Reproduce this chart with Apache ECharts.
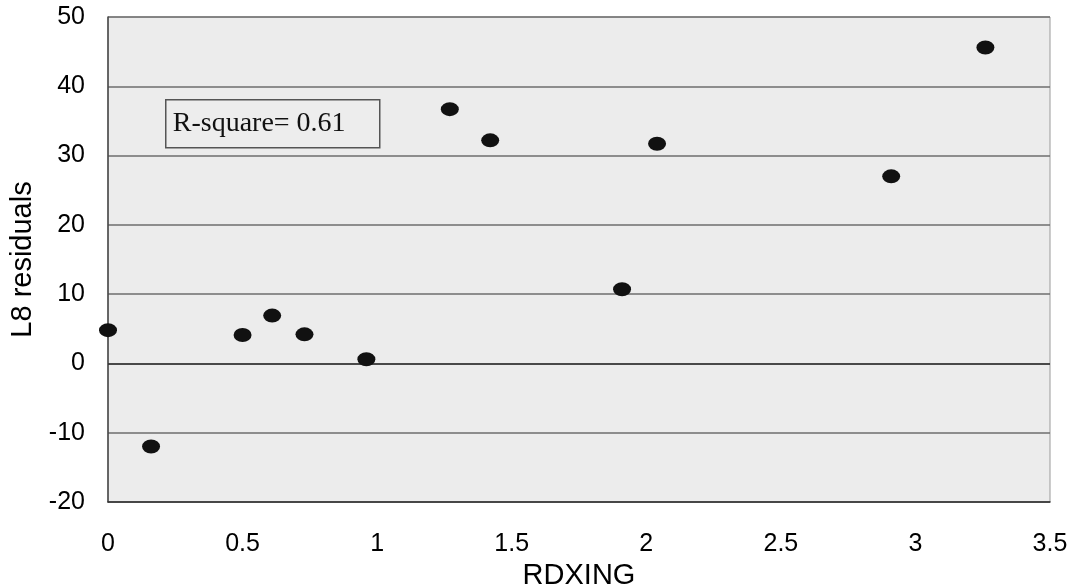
<!DOCTYPE html>
<html>
<head>
<meta charset="utf-8">
<script src="https://cdn.jsdelivr.net/npm/echarts@6/dist/echarts.min.js"></script>
<style>
html,body{margin:0;padding:0;background:#fff;}
#c{width:1070px;height:587px;}
</style>
</head>
<body>
<div id="c"></div>
<script>
const rdxing = [0.00, 0.16, 0.50, 0.61, 0.73, 0.96, 1.27, 1.42, 1.91, 2.04, 2.91, 3.26];
const residuals = [4.8, -12.0, 4.1, 6.9, 4.2, 0.6, 36.7, 32.2, 10.7, 31.7, 27.0, 45.6];
const xTicks = [0, 0.5, 1, 1.5, 2, 2.5, 3, 3.5];
const yTicks = [-20, -10, 0, 10, 20, 30, 40, 50];
const annotation = 'R-square= 0.61';

const points = rdxing.map((x, i) => [x, residuals[i]]);

const chart = echarts.init(document.getElementById('c'), null, {renderer: 'canvas'});
chart.setOption({
  animation: false,
  backgroundColor: '#ffffff',
  grid: {
    left: 108, right: 20, top: 17, bottom: 85,
    containLabel: false, outerBoundsMode: 'none',
    show: true, backgroundColor: '#ececec', borderColor: '#9a9a9a', borderWidth: 1
  },
  xAxis: {
    type: 'value',
    min: xTicks[0], max: xTicks[xTicks.length - 1], interval: 0.5,
    name: 'RDXING', nameLocation: 'middle', nameGap: 58,
    nameTextStyle: {fontFamily: 'Liberation Sans', fontSize: 29, color: '#000'},
    axisLine: {show: true, onZero: false, lineStyle: {color: '#333', width: 1.5}},
    axisTick: {show: false},
    splitLine: {show: false},
    axisLabel: {fontFamily: 'Liberation Sans', fontSize: 25, color: '#000', margin: 30}
  },
  yAxis: {
    type: 'value',
    min: yTicks[0], max: yTicks[yTicks.length - 1], interval: 10,
    name: 'L8 residuals', nameLocation: 'middle', nameGap: 70,
    nameTextStyle: {fontFamily: 'Liberation Sans', fontSize: 29, color: '#000'},
    axisLine: {show: true, onZero: false, lineStyle: {color: '#444', width: 1.5}},
    axisTick: {show: false},
    splitLine: {show: true, lineStyle: {color: '#6e6e6e', width: 1.5}},
    axisLabel: {fontFamily: 'Liberation Sans', fontSize: 25, color: '#000', margin: 23}
  },
  series: [
    {
      type: 'scatter',
      data: points,
      symbol: 'circle',
      symbolSize: [18, 14],
      itemStyle: {color: '#111111', opacity: 1},
      markLine: {
        silent: true,
        symbol: 'none',
        label: {show: false},
        lineStyle: {color: '#333', width: 1.5, type: 'solid'},
        data: [{yAxis: 0}]
      },
      z: 5
    }
  ],
  graphic: [
    {
      type: 'group',
      left: 165, top: 99,
      children: [
        {type: 'rect', shape: {x: 0, y: 0, width: 214, height: 48},
         style: {fill: '#ededed', stroke: '#555', lineWidth: 1.5}},
        {type: 'text', x: 7, y: 24,
         style: {text: annotation, fontFamily: 'Liberation Serif', fontSize: 28,
                 fill: '#111', verticalAlign: 'middle', align: 'left'}}
      ]
    }
  ]
});
</script>
</body>
</html>
